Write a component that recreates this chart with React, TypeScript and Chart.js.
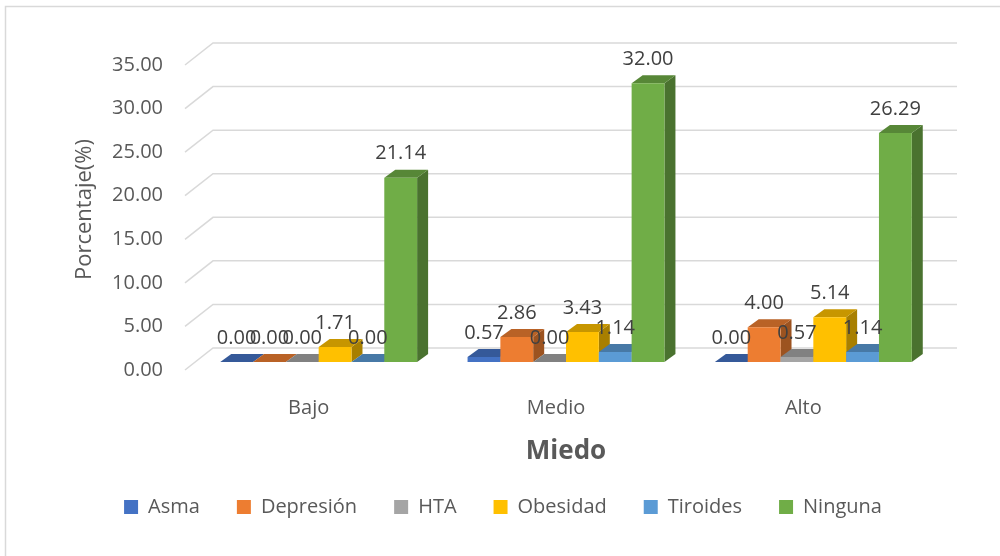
import React, { useEffect, useRef } from "react";
import { Chart, registerables } from "chart.js";

Chart.register(...registerables);

// ---- data ----
const categories = ["Bajo", "Medio", "Alto"];
const seriesNames = ["Asma", "Depresión", "HTA", "Obesidad", "Tiroides", "Ninguna"];
const asma = [0.0, 0.57, 0.0];
const depresion = [0.0, 2.86, 4.0];
const hta = [0.0, 0.0, 0.57];
const obesidad = [1.71, 3.43, 5.14];
const tiroides = [0.0, 1.14, 1.14];
const ninguna = [21.14, 32.0, 26.29];
const yTickValues = [0, 5, 10, 15, 20, 25, 30, 35];
const yTitle = "Porcentaje(%)";
const xTitle = "Miedo";

const seriesValues = [asma, depresion, hta, obesidad, tiroides, ninguna];
const seriesColors = ["#4472C4", "#ED7D31", "#A5A5A5", "#FFC000", "#5B9BD5", "#70AD47"];

const FONT = "'Open Sans', 'Noto Sans', sans-serif";
const TEXT = "#595959";
const GRID = "#d9d9d9";
const DX = 11;
const DY = 8;

function shade(hex: string, f: number): string {
  const n = parseInt(hex.slice(1), 16);
  const r = Math.round(((n >> 16) & 255) * f);
  const g = Math.round(((n >> 8) & 255) * f);
  const b = Math.round((n & 255) * f);
  return `rgb(${r},${g},${b})`;
}

const excel3d = {
  id: "excel3d",
  beforeDraw(chart: any) {
    const ctx = chart.ctx;
    ctx.save();
    ctx.fillStyle = "#ffffff";
    ctx.fillRect(0, 0, chart.width, chart.height);
    ctx.strokeStyle = GRID;
    ctx.lineWidth = 1.5;
    ctx.beginPath();
    ctx.moveTo(5.5, chart.height);
    ctx.lineTo(5.5, 6.5);
    ctx.lineTo(chart.width, 6.5);
    ctx.stroke();
    ctx.restore();
  },
  beforeDatasetsDraw(chart: any) {
    const ctx = chart.ctx;
    const ys = chart.scales.y;
    const { left, right } = chart.chartArea;
    ctx.save();
    ctx.strokeStyle = GRID;
    ctx.lineWidth = 1.5;
    ys.ticks.forEach((t: any) => {
      const py = ys.getPixelForValue(t.value);
      ctx.beginPath();
      ctx.moveTo(left - 10, py + 8);
      ctx.lineTo(left + 18, py - 14);
      ctx.lineTo(right + 20, py - 14);
      ctx.stroke();
    });
    const n = chart.data.labels.length;
    const metas = chart.data.datasets.map((_: any, i: number) => chart.getDatasetMeta(i));
    for (let j = 0; j < n; j++) {
      for (let i = 0; i < metas.length; i++) {
        const el = metas[i].data[j];
        if (!el) continue;
        const { x, y, base, width } = el.getProps(["x", "y", "base", "width"], true);
        const x1 = x - width / 2;
        const x2 = x + width / 2;
        const c = seriesColors[i];
        ctx.fillStyle = shade(c, 0.66);
        ctx.beginPath();
        ctx.moveTo(x2, y);
        ctx.lineTo(x2 + DX, y - DY);
        ctx.lineTo(x2 + DX, base - DY);
        ctx.lineTo(x2, base);
        ctx.closePath();
        ctx.fill();
        ctx.fillStyle = shade(c, 0.78);
        ctx.beginPath();
        ctx.moveTo(x1, y);
        ctx.lineTo(x2, y);
        ctx.lineTo(x2 + DX, y - DY);
        ctx.lineTo(x1 + DX, y - DY);
        ctx.closePath();
        ctx.fill();
        el.draw(ctx, chart.chartArea);
      }
    }
    ctx.restore();
    return false;
  },
  afterDraw(chart: any) {
    const ctx = chart.ctx;
    ctx.save();
    ctx.font = `20px ${FONT}`;
    ctx.fillStyle = "#404040";
    ctx.textAlign = "center";
    ctx.textBaseline = "middle";
    chart.data.datasets.forEach((ds: any, i: number) => {
      const meta = chart.getDatasetMeta(i);
      meta.data.forEach((el: any, j: number) => {
        const { x, y } = el.getProps(["x", "y"], true);
        ctx.fillText(Number(ds.data[j]).toFixed(2), x, y - 24);
      });
    });
    ctx.restore();
  },
};

export default function App() {
  const canvasRef = useRef<HTMLCanvasElement | null>(null);

  useEffect(() => {
    if (!canvasRef.current) return;
    const chart = new Chart(canvasRef.current, {
      type: "bar",
      data: {
        labels: categories,
        datasets: seriesNames.map((name, i) => ({
          label: name,
          data: seriesValues[i],
          backgroundColor: seriesColors[i],
          borderWidth: 0,
          barPercentage: 1,
          categoryPercentage: 0.796,
        })),
      },
      options: {
        responsive: false,
        animation: false,
        devicePixelRatio: 1,
        layout: { padding: { top: 57, left: 69, right: 63, bottom: 29 } },
        plugins: {
          tooltip: { enabled: false },
          legend: {
            position: "bottom",
            labels: {
              boxWidth: 14,
              boxHeight: 14,
              padding: 37,
              color: TEXT,
              font: { family: FONT, size: 20 },
            },
          },
        },
        scales: {
          x: {
            grid: { display: false },
            border: { display: false },
            ticks: {
              color: TEXT,
              font: { family: FONT, size: 20 },
              padding: 26,
              labelOffset: -10,
            },
            title: {
              display: true,
              text: xTitle,
              color: TEXT,
              font: { family: FONT, size: 26, weight: "bold" },
              padding: { top: 0, bottom: -7.6 },
            },
            afterFit: (s: any) => {
              s.height = 98;
            },
          },
          y: {
            min: 0,
            max: 35,
            grid: { display: false },
            border: { display: false },
            afterBuildTicks: (s: any) => {
              s.ticks = yTickValues.map((v) => ({ value: v }));
            },
            ticks: {
              color: TEXT,
              font: { family: FONT, size: 20 },
              padding: 24,
              labelOffset: 8,
              callback: (v: any) => Number(v).toFixed(2),
            },
            title: {
              display: true,
              text: yTitle,
              color: TEXT,
              font: { family: FONT, size: 22 },
              padding: { top: 2.8, bottom: 0 },
            },
            afterFit: (s: any) => {
              s.width = 126;
            },
          },
        },
      },
      plugins: [excel3d],
    } as any);
    return () => chart.destroy();
  }, []);

  return (
    <div style={{ position: "fixed", left: 0, top: 0, width: 1000, height: 556, background: "#fff" }}>
      <canvas ref={canvasRef} width={1000} height={556} style={{ display: "block" }} />
    </div>
  );
}
